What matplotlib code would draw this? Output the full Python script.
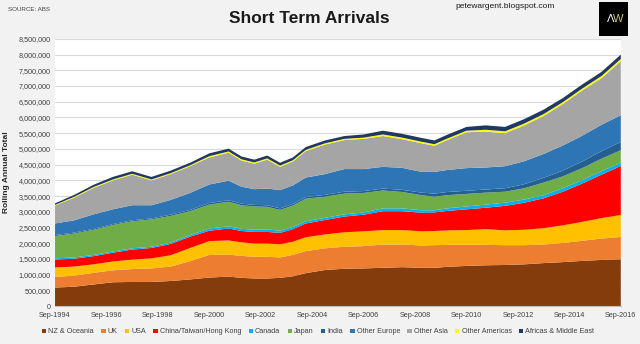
import matplotlib
matplotlib.use("Agg")
import matplotlib.pyplot as plt
from matplotlib.patches import Patch
from matplotlib.ticker import FuncFormatter, MultipleLocator

plt.rcParams['font.family'] = ['Liberation Sans', 'DejaVu Sans']

# decimal years (Sep-1994 = 1994.75)
dates = [1994.75, 1995.5, 1996.25, 1997.0, 1997.75, 1998.5, 1999.25, 2000.0, 2000.75,
         2001.5, 2002.0, 2002.5, 2003.0, 2003.5, 2004.0, 2004.5, 2005.25, 2006.0,
         2006.75, 2007.5, 2008.25, 2009.0, 2009.5, 2010.0, 2010.75, 2011.5, 2012.25,
         2013.0, 2013.75, 2014.5, 2015.25, 2016.0, 2016.75]

# values in millions
nz_oceania = [0.59, 0.62, 0.69, 0.76, 0.77, 0.77, 0.80, 0.85, 0.91, 0.94, 0.90, 0.88, 0.88,
              0.90, 0.95, 1.05, 1.15, 1.19, 1.20, 1.22, 1.24, 1.22, 1.22, 1.25, 1.28, 1.30,
              1.31, 1.33, 1.37, 1.40, 1.44, 1.47, 1.49]
uk = [0.34, 0.35, 0.37, 0.38, 0.41, 0.43, 0.46, 0.58, 0.72, 0.70, 0.70, 0.69, 0.69, 0.65,
      0.68, 0.70, 0.69, 0.70, 0.71, 0.74, 0.72, 0.71, 0.72, 0.70, 0.67, 0.65, 0.63, 0.61,
      0.59, 0.61, 0.64, 0.68, 0.71]
usa = [0.30, 0.29, 0.27, 0.28, 0.30, 0.32, 0.36, 0.42, 0.44, 0.45, 0.43, 0.42, 0.42, 0.42,
       0.42, 0.44, 0.44, 0.46, 0.47, 0.46, 0.46, 0.45, 0.45, 0.46, 0.47, 0.50, 0.47, 0.49,
       0.52, 0.56, 0.60, 0.65, 0.70]
china_tw_hk = [0.25, 0.25, 0.26, 0.28, 0.32, 0.33, 0.36, 0.36, 0.33, 0.38, 0.36, 0.37, 0.37,
               0.36, 0.40, 0.44, 0.46, 0.50, 0.53, 0.60, 0.60, 0.59, 0.59, 0.62, 0.66, 0.68,
               0.78, 0.86, 0.95, 1.07, 1.22, 1.38, 1.56]
canada = [0.04, 0.04, 0.04, 0.04, 0.04, 0.04, 0.04, 0.05, 0.07, 0.07, 0.07, 0.07, 0.08, 0.07,
          0.07, 0.07, 0.07, 0.07, 0.07, 0.09, 0.09, 0.08, 0.07, 0.08, 0.09, 0.10, 0.10, 0.10,
          0.10, 0.11, 0.11, 0.11, 0.10]
japan = [0.71, 0.76, 0.80, 0.84, 0.86, 0.87, 0.85, 0.76, 0.76, 0.78, 0.75, 0.74, 0.72, 0.66,
         0.68, 0.72, 0.67, 0.66, 0.62, 0.57, 0.52, 0.48, 0.43, 0.42, 0.40, 0.38, 0.35, 0.36,
         0.40, 0.38, 0.38, 0.40, 0.40]
india = [0.03, 0.03, 0.03, 0.03, 0.03, 0.03, 0.04, 0.04, 0.05, 0.05, 0.05, 0.05, 0.05, 0.05,
         0.05, 0.05, 0.06, 0.06, 0.06, 0.06, 0.07, 0.08, 0.10, 0.10, 0.10, 0.10, 0.11, 0.13,
         0.15, 0.18, 0.21, 0.24, 0.26]
other_europe = [0.37, 0.39, 0.46, 0.47, 0.48, 0.42, 0.47, 0.54, 0.59, 0.62, 0.54, 0.50, 0.53,
                0.58, 0.59, 0.62, 0.66, 0.72, 0.70, 0.69, 0.70, 0.66, 0.69, 0.70, 0.72, 0.70,
                0.70, 0.73, 0.76, 0.80, 0.82, 0.84, 0.85]
other_asia = [0.57, 0.72, 0.84, 0.92, 0.97, 0.79, 0.82, 0.85, 0.86, 0.89, 0.83, 0.81, 0.92,
              0.74, 0.76, 0.84, 0.94, 0.92, 0.96, 0.98, 0.91, 0.91, 0.83, 0.95, 1.14, 1.14,
              1.05, 1.14, 1.21, 1.32, 1.44, 1.48, 1.72]
other_americas = [0.02, 0.03, 0.03, 0.03, 0.03, 0.03, 0.03, 0.03, 0.04, 0.04, 0.04, 0.04, 0.04,
                  0.04, 0.04, 0.04, 0.04, 0.04, 0.04, 0.05, 0.05, 0.05, 0.05, 0.05, 0.05, 0.06,
                  0.06, 0.06, 0.06, 0.06, 0.06, 0.07, 0.07]
africa_me = [0.05, 0.06, 0.07, 0.08, 0.08, 0.08, 0.08, 0.08, 0.09, 0.09, 0.09, 0.09, 0.09, 0.09,
             0.09, 0.09, 0.09, 0.09, 0.10, 0.12, 0.12, 0.12, 0.12, 0.12, 0.12, 0.14, 0.14, 0.14,
             0.14, 0.13, 0.13, 0.13, 0.14]

series_names = ["NZ & Oceania", "UK", "USA", "China/Taiwan/Hong Kong", "Canada", "Japan",
                "India", "Other Europe", "Other Asia", "Other Americas", "Africas & Middle East"]
series = [nz_oceania, uk, usa, china_tw_hk, canada, japan, india, other_europe, other_asia,
          other_americas, africa_me]
colors = ["#843C0C", "#ED7D31", "#FFC000", "#FF0000", "#00B0F0", "#70AD47", "#255E91",
          "#2E75B6", "#A5A5A5", "#FFFF00", "#203864"]

x_tick_pos = [1994.75 + 2 * i for i in range(12)]
x_tick_labels = ["Sep-%d" % (1994 + 2 * i) for i in range(12)]

fig = plt.figure(figsize=(6.4, 3.44), dpi=100)
fig.patch.set_facecolor("#F2F2F2")
ax = fig.add_axes([0.086, 0.110, 0.884, 0.777])
ax.set_facecolor("white")

vals = [[v * 1e6 for v in s] for s in series]
ax.stackplot(dates, vals, colors=colors, linewidth=0)

ax.set_xlim(1994.75, 2016.75)
ax.set_ylim(0, 8500000)
ax.yaxis.set_major_locator(MultipleLocator(500000))
ax.yaxis.set_major_formatter(FuncFormatter(lambda v, p: "{:,.0f}".format(v)))
ax.set_xticks(x_tick_pos)
ax.set_xticklabels(x_tick_labels)
ax.tick_params(axis="both", length=0, labelsize=5.2, colors="#404040", pad=3)
ax.tick_params(axis="x", pad=4)
ax.grid(axis="y", color="#D9D9D9", linewidth=0.8)
ax.set_axisbelow(True)
for sp in ["top", "right", "left"]:
    ax.spines[sp].set_visible(False)
ax.spines["bottom"].set_color("#BFBFBF")

ax.set_ylabel("Rolling Annual Total", fontsize=6, fontweight="bold", color="#262626", labelpad=6)

fig.text(0.484, 0.945, "Short Term Arrivals", ha="center", va="center",
         fontsize=12.5, fontweight="bold", color="#1a1a1a")
fig.text(0.013, 0.972, "SOURCE: ABS", ha="left", va="center", fontsize=4.5, color="#404040")
fig.text(0.789, 0.982, "petewargent.blogspot.com", ha="center", va="center",
         fontsize=6, color="#1a1a1a")

logo = fig.add_axes([0.936, 0.895, 0.046, 0.1])
logo.set_facecolor("black")
logo.set_xticks([]); logo.set_yticks([])
for sp in logo.spines.values():
    sp.set_visible(False)
logo.text(0.38, 0.5, "Λ", color="white", ha="center", va="center", fontsize=8,
          transform=logo.transAxes)
logo.text(0.66, 0.5, "W", color="#C8C070", ha="center", va="center", fontsize=8,
          transform=logo.transAxes)

handles = [Patch(facecolor=c, edgecolor="none") for c in colors]
fig.legend(handles, series_names, loc="center", bbox_to_anchor=(0.497, 0.035), ncol=11,
           frameon=False, fontsize=5.2, handlelength=0.6, handleheight=0.6,
           handletextpad=0.3, columnspacing=1.0, labelcolor="#404040")

fig.savefig("out.png", dpi=100, facecolor=fig.get_facecolor())
